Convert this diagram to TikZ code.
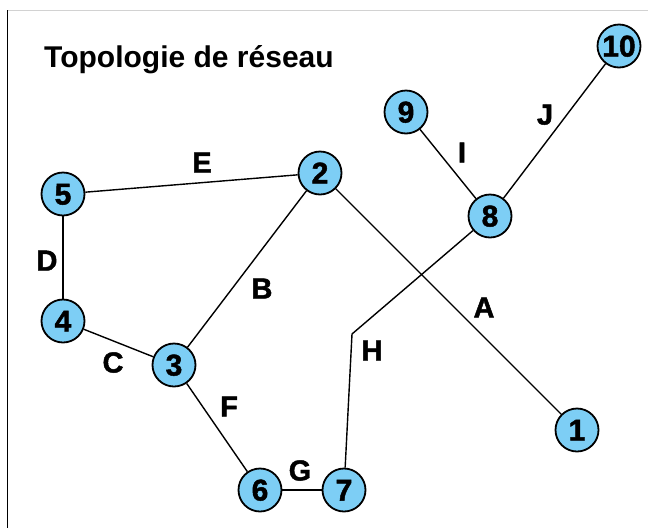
\documentclass[tikz,border=0pt]{standalone}
\usepackage{fontspec}
\setmainfont{Liberation Sans}
\newfontfamily\heavyfont[FakeBold=1.6]{Liberation Sans Bold}
\definecolor{nodeblue}{RGB}{125,206,245}
\begin{document}
\begin{tikzpicture}[x=1pt,y=-1pt,
  netnode/.style={circle,draw=black,line width=1.8pt,fill=nodeblue,minimum size=43pt,inner sep=0pt,
    font=\fontsize{30}{30}\heavyfont,text height=21pt,text depth=0pt},
  edgelabel/.style={inner sep=0pt,font=\fontsize{29}{29}\heavyfont,text height=21pt,text depth=0pt},
  link/.style={line width=1.4pt,draw=black}]
\useasboundingbox (0,0) rectangle (648,528);
\draw[gray!35,line width=1pt] (7,10) -- (648,10);
\draw[black,line width=1pt] (7,10) -- (7,528);
\node[anchor=base west,inner sep=0pt,font=\fontsize{30}{30}\bfseries] (title) at (44,67) {Topologie de réseau};
\node[netnode] (n1) at (577,430) {1};
\node[netnode] (n2) at (320,173) {2};
\node[netnode] (n3) at (174,365) {3};
\node[netnode] (n4) at (63,321) {4};
\node[netnode] (n5) at (63,194) {5};
\node[netnode] (n6) at (260,490) {6};
\node[netnode] (n7) at (344,490) {7};
\node[netnode] (n8) at (490,216) {8};
\node[netnode] (n9) at (406,112) {9};
\node[netnode] (n10) at (619,46) {10};
\coordinate (bend) at (352,334);
\draw[link] (n2) -- (n1);
\draw[link] (n2) -- (n3);
\draw[link] (n3) -- (n4);
\draw[link] (n4) -- (n5);
\draw[link] (n5) -- (n2);
\draw[link] (n3) -- (n6);
\draw[link] (n6) -- (n7);
\draw[link] (n7) -- (bend) -- (n8);
\draw[link] (n9) -- (n8);
\draw[link] (n8) -- (n10);
\node[edgelabel] (lA) at (484,307) {A};
\node[edgelabel] (lB) at (262,288) {B};
\node[edgelabel] (lC) at (113,362) {C};
\node[edgelabel] (lD) at (47,260) {D};
\node[edgelabel] (lE) at (202,162) {E};
\node[edgelabel] (lF) at (229,406) {F};
\node[edgelabel] (lG) at (300,470) {G};
\node[edgelabel] (lH) at (372,350) {H};
\node[edgelabel] (lI) at (462,152) {I};
\node[edgelabel] (lJ) at (545,114) {J};
\end{tikzpicture}
\end{document}
